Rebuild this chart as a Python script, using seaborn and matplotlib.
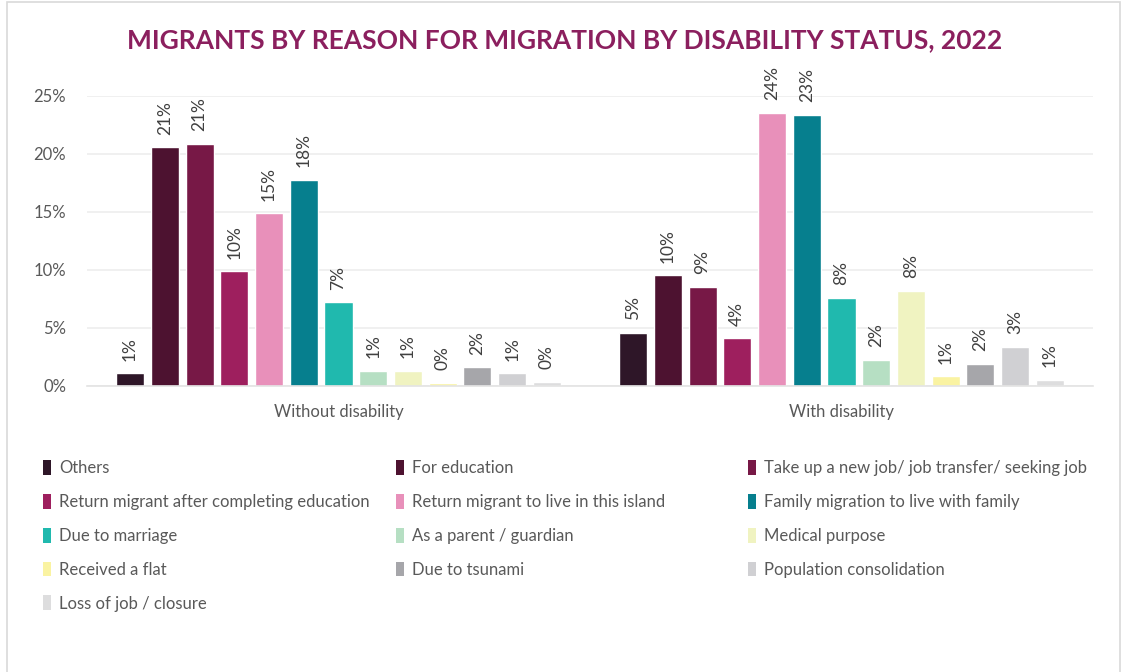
import matplotlib
matplotlib.use("Agg")
import matplotlib.pyplot as plt
from matplotlib.patches import Rectangle, Patch
from matplotlib.ticker import FuncFormatter
import seaborn as sns
import pandas as pd

# ---- data (percent of migrants) ----
statuses = ["Without disability", "With disability"]
reasons = [
    "Others",
    "For education",
    "Take up a new job/ job transfer/ seeking job",
    "Return migrant after completing education",
    "Return migrant to live in this island",
    "Family migration to live with family",
    "Due to marriage",
    "As a parent / guardian",
    "Medical purpose",
    "Received a flat",
    "Due to tsunami",
    "Population consolidation",
    "Loss of job / closure",
]
without_disability = [1.1, 20.6, 20.9, 9.9, 14.9, 17.8, 7.2, 1.3, 1.3, 0.3, 1.6, 1.1, 0.35]
with_disability = [4.6, 9.55, 8.55, 4.1, 23.55, 23.4, 7.6, 2.25, 8.2, 0.85, 1.9, 3.4, 0.55]
colors = [
    "#2E1628", "#4D1230", "#771846", "#9E1F5E", "#E890BA", "#067F8E", "#20B9AE",
    "#B6DFC3", "#F0F3C1", "#FAF3A2", "#A6A6AA", "#D0D0D3", "#DDDDDE",
]
y_ticks = [0, 5, 10, 15, 20, 25]

df = pd.DataFrame({
    "status": [s for s in statuses for _ in reasons],
    "reason": reasons * 2,
    "value": without_disability + with_disability,
})

sns.set_theme(style="white")
plt.rcParams["font.family"] = ["Lato", "DejaVu Sans"]

W, H = 1122, 672
fig = plt.figure(figsize=(W / 100, H / 100), dpi=100)
ax = fig.add_axes([87 / W, (H - 386) / H, 1006 / W, 290 / H])

palette = dict(zip(reasons, colors))
sns.barplot(data=df, x="status", y="value", hue="reason", hue_order=reasons,
            order=statuses, palette=palette, width=0.898, gap=0.194,
            saturation=1, legend=False, ax=ax)

for cont in ax.containers:
    vals = [b.get_height() for b in cont]
    ax.bar_label(cont, labels=[f"{int(v + 0.5)}%" for v in vals], rotation=90,
                 padding=9, fontsize=12.5, color="#404040", clip_on=False)

ax.set_xlim(-0.5, 1.5)
ax.set_ylim(0, 25)
ax.set_yticks(y_ticks)
ax.yaxis.set_major_formatter(FuncFormatter(lambda v, p: f"{v:.0f}%"))
ax.grid(axis="y", color="#EDEDED", linewidth=1.2)
ax.set_axisbelow(True)
for side in ["top", "right", "left"]:
    ax.spines[side].set_visible(False)
ax.spines["bottom"].set_color("#E3E3E3")
ax.spines["bottom"].set_linewidth(1.2)
ax.tick_params(axis="y", length=0, pad=15, labelsize=12, labelcolor="#595959")
ax.tick_params(axis="x", length=0, pad=13, labelsize=12, labelcolor="#595959")
ax.set_xlabel("")
ax.set_ylabel("")

fig.text(565 / W, 1 - 40 / H, "MIGRANTS BY REASON FOR MIGRATION BY DISABILITY STATUS, 2022",
         ha="center", va="center", fontsize=19, fontweight="bold", color="#8B1F5E")

# legend laid out row by row in three columns
handles = [Patch(facecolor=c, edgecolor="none") for c in colors]
col_x = [43, 396, 748]
for ci, x0 in enumerate(col_x):
    idx = list(range(ci, len(reasons), 3))
    fig.legend([handles[i] for i in idx], [reasons[i] for i in idx],
               loc="upper left", bbox_to_anchor=(x0 / W, 1 - 460 / H),
               frameon=False, fontsize=12, labelcolor="#595959",
               handlelength=0.5, handleheight=1.0, handletextpad=0.45,
               labelspacing=1.06, borderaxespad=0, borderpad=0)

fig.patches.append(Rectangle((7 / W, -0.01), (1120 - 7) / W, 1.007, transform=fig.transFigure,
                             fill=False, edgecolor="#D9D9D9", linewidth=1.2))

fig.savefig("out.png", dpi=100)
